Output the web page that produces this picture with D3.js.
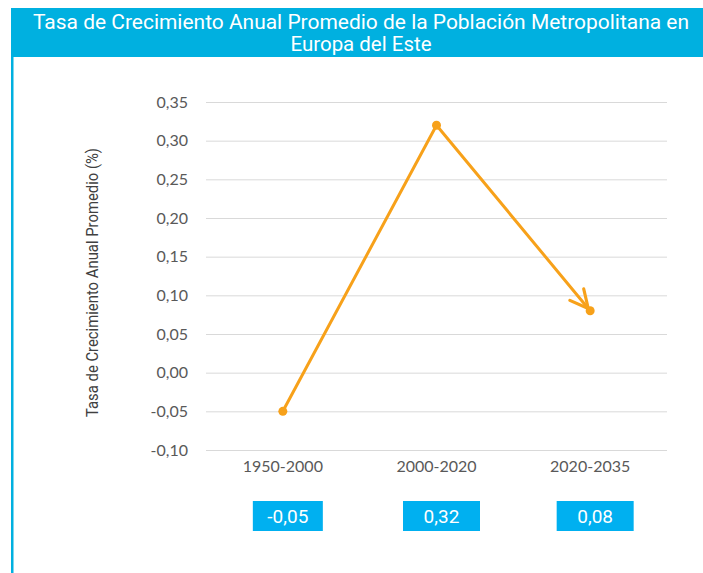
<!DOCTYPE html>
<html>
<head>
<meta charset="utf-8">
<script src="https://cdn.jsdelivr.net/npm/d3@7"></script>
<style>
  body { margin: 0; background: #fff; }
  svg { display: block; }
</style>
</head>
<body>
<div id="chart"></div>
<script>
// datos
const periods = ['1950-2000', '2000-2020', '2020-2035'];
const rates = [-0.05, 0.32, 0.08];
const yTicks = [-0.10, -0.05, 0.00, 0.05, 0.10, 0.15, 0.20, 0.25, 0.30, 0.35];
const titleLines = ['Tasa de Crecimiento Anual Promedio de la Población Metropolitana en', 'Europa del Este'];
const yTitle = 'Tasa de Crecimiento Anual Promedio (%)';

const width = 703, height = 573;
const blue = '#00B0E0', orange = '#F7A11A';
const sans = 'Roboto, "Liberation Sans", sans-serif';
const fmt = v => d3.format('.2f')(v).replace('.', ',').replace('−', '-');

const svg = d3.select('#chart').append('svg')
    .attr('width', width)
    .attr('height', height);

// title bar + left border
svg.append('rect')
    .attr('x', 11).attr('y', 8)
    .attr('width', width - 11).attr('height', 49)
    .attr('fill', blue);
svg.append('rect')
    .attr('x', 11).attr('y', 57)
    .attr('width', 2.5).attr('height', height - 57)
    .attr('fill', blue);

// title (condensed look: text squeezed to the reference widths)
const titleWidths = [656, 141];
svg.append('g').selectAll('text')
    .data(titleLines)
    .join('text')
    .attr('x', (d, i) => 361 - titleWidths[i] / 2)
    .attr('y', (d, i) => 29 + i * 22)
    .attr('textLength', (d, i) => titleWidths[i])
    .attr('lengthAdjust', 'spacingAndGlyphs')
    .attr('fill', '#fff')
    .style('font-family', sans)
    .style('font-size', '21px')
    .text(d => d);

const x = d3.scalePoint()
    .domain(periods)
    .range([206, 667])
    .padding(0.5);

const y = d3.scaleLinear()
    .domain([-0.10, 0.35])
    .range([450, 102]);

// gridlines
svg.append('g')
    .attr('transform', 'translate(206,0)')
    .call(d3.axisLeft(y).tickValues(yTicks).tickSize(-(667 - 206)).tickFormat(''))
    .call(g => g.select('.domain').remove())
    .call(g => g.selectAll('line').attr('stroke', '#d9d9d9').attr('stroke-width', 1));

// y tick labels
svg.append('g')
    .selectAll('text')
    .data(yTicks)
    .join('text')
    .attr('x', 188)
    .attr('y', d => y(d))
    .attr('dy', '0.35em')
    .attr('text-anchor', 'end')
    .attr('fill', '#595959')
    .style('font-family', 'Lato, "Open Sans", sans-serif')
    .style('font-size', '16px')
    .text(d => fmt(d));

// x labels
svg.append('g')
    .selectAll('text')
    .data(periods)
    .join('text')
    .attr('x', d => x(d))
    .attr('y', 472)
    .attr('text-anchor', 'middle')
    .attr('fill', '#595959')
    .style('font-family', 'Lato, "Open Sans", sans-serif')
    .style('font-size', '16px')
    .text(d => d);

// y axis title
svg.append('text')
    .attr('transform', 'translate(98,417) rotate(-90)')
    .attr('textLength', 269)
    .attr('lengthAdjust', 'spacingAndGlyphs')
    .attr('fill', '#404040')
    .style('font-family', sans)
    .style('font-size', '16.5px')
    .text(yTitle);

// arrow marker
svg.append('defs').append('marker')
    .attr('id', 'arrow')
    .attr('viewBox', '0 0 10 10')
    .attr('refX', 9).attr('refY', 5)
    .attr('markerWidth', 7.5).attr('markerHeight', 7.5)
    .attr('orient', 'auto')
    .append('path')
    .attr('d', 'M1,1 L9,5 L1,9')
    .attr('fill', 'none')
    .attr('stroke', orange)
    .attr('stroke-width', 1.4)
    .attr('stroke-linecap', 'round')
    .attr('stroke-linejoin', 'round');

const pts = periods.map((p, i) => [x(p), y(rates[i])]);

// line, stopping a bit short of the last point so the arrow tip sits on it
const last = pts[pts.length - 1], prev = pts[pts.length - 2];
const dx = last[0] - prev[0], dy = last[1] - prev[1];
const len = Math.hypot(dx, dy);
const linePts = pts.slice(0, -1).concat([[last[0] - dx / len * 3, last[1] - dy / len * 3]]);

svg.append('path')
    .attr('d', d3.line()(linePts))
    .attr('fill', 'none')
    .attr('stroke', orange)
    .attr('stroke-width', 3)
    .attr('stroke-linejoin', 'round')
    .attr('marker-end', 'url(#arrow)');

svg.append('g')
    .selectAll('circle')
    .data(pts)
    .join('circle')
    .attr('cx', d => d[0])
    .attr('cy', d => d[1])
    .attr('r', 4.5)
    .attr('fill', orange);

// value boxes
const boxes = svg.append('g')
    .selectAll('g')
    .data(periods)
    .join('g')
    .attr('transform', d => `translate(${x(d) + 5},516)`);

boxes.append('rect')
    .attr('x', (d, i) => i === 0 ? -35 : -38.5)
    .attr('y', -15)
    .attr('width', (d, i) => i === 0 ? 70 : 77)
    .attr('height', 30)
    .attr('fill', '#00B0F0');

boxes.append('text')
    .attr('text-anchor', 'middle')
    .attr('dy', '0.36em')
    .attr('fill', '#fff')
    .style('font-family', sans)
    .style('font-size', '19px')
    .text((d, i) => fmt(rates[i]));
</script>
</body>
</html>
